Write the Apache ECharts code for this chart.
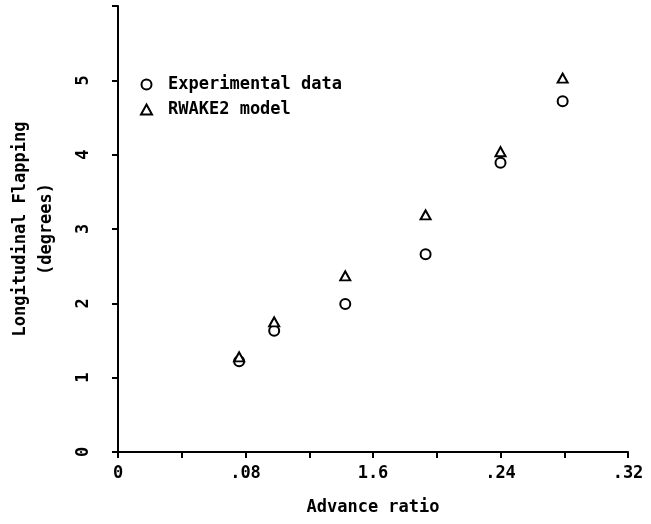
<!DOCTYPE html>
<html>
<head>
<meta charset="utf-8">
<script src="https://cdn.jsdelivr.net/npm/echarts@6/dist/echarts.min.js"></script>
<style>
html,body{margin:0;padding:0;background:#fff;}
#c{width:651px;height:524px;}
</style>
</head>
<body>
<div id="c"></div>
<script>
// Data
const advanceRatio = [0.076, 0.098, 0.1426, 0.193, 0.240, 0.279];
const experimental = [1.22, 1.63, 1.99, 2.66, 3.89, 4.72];
const rwake2 = [1.28, 1.75, 2.37, 3.19, 4.04, 5.03];
const xTickLabels = ['0', '.08', '1.6', '.24', '.32'];
const yTickLabels = ['0', '1', '2', '3', '4', '5', ''];
const seriesNames = ['Experimental data', 'RWAKE2 model'];
const xAxisTitle = 'Advance ratio';
const yAxisTitle = 'Longitudinal Flapping\n(degrees)';

const FONT = 'DejaVu Sans Mono';
const INK = '#000';
const TXT = {fontFamily: FONT, fontSize: 17, fontWeight: 'bold', color: INK};

const chart = echarts.init(document.getElementById('c'), null, {renderer: 'canvas'});
chart.setOption({
  backgroundColor: '#fff',
  animation: false,
  grid: {left: 114, right: 23, top: 6, bottom: 72, containLabel: false},
  legend: {
    orient: 'vertical',
    left: 135,
    top: 71,
    itemWidth: 11,
    itemHeight: 10,
    itemGap: 8,
    data: seriesNames,
    itemStyle: {opacity: 1},
    textStyle: Object.assign({}, TXT, {lineHeight: 17, padding: [0, 0, 0, 11]})
  },
  xAxis: {
    type: 'value',
    min: 0,
    max: 0.32,
    interval: 0.04,
    splitLine: {show: false},
    axisLine: {onZero: false, lineStyle: {color: INK, width: 2}},
    axisTick: {inside: false, length: 6, lineStyle: {color: INK, width: 2}},
    axisLabel: Object.assign({}, TXT, {
      margin: 13,
      formatter: function (v) {
        const k = Math.round(v / 0.04);
        return k % 2 === 0 ? (xTickLabels[k / 2] || '') : '';
      }
    }),
    name: xAxisTitle,
    nameLocation: 'middle',
    nameGap: 47,
    nameTextStyle: TXT
  },
  yAxis: {
    type: 'value',
    min: 0,
    max: 6,
    interval: 1,
    splitLine: {show: false},
    axisLine: {lineStyle: {color: INK, width: 2}},
    axisTick: {inside: false, length: 6, lineStyle: {color: INK, width: 2}},
    axisLabel: Object.assign({}, TXT, {
      rotate: 90,
      margin: 26,
      formatter: function (v) { return yTickLabels[Math.round(v)] || ''; }
    }),
    name: yAxisTitle,
    nameLocation: 'middle',
    nameGap: 58,
    nameTextStyle: Object.assign({}, TXT, {lineHeight: 26})
  },
  series: [
    {
      name: seriesNames[0],
      type: 'scatter',
      symbol: 'emptyCircle',
      symbolSize: 10,
      itemStyle: {color: INK, borderColor: INK, borderWidth: 2.5, opacity: 1},
      data: advanceRatio.map((x, i) => [x, experimental[i]])
    },
    {
      name: seriesNames[1],
      type: 'scatter',
      symbol: 'emptyTriangle',
      symbolSize: [10, 9],
      itemStyle: {color: INK, borderColor: INK, borderWidth: 2.5, opacity: 1},
      data: advanceRatio.map((x, i) => [x, rwake2[i]])
    }
  ]
});
</script>
</body>
</html>
